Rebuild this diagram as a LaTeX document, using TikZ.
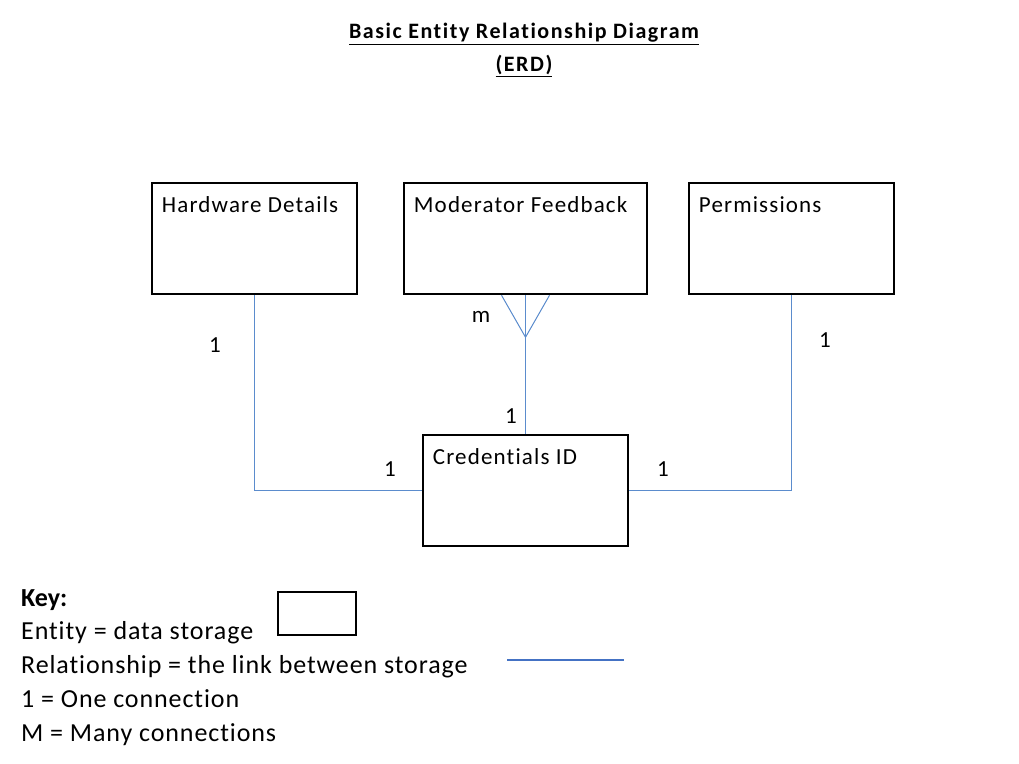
\documentclass[tikz,border=0pt]{standalone}
\usepackage{fontspec}
\setmainfont{Carlito}[Ligatures={NoCommon,NoContextual}]
\usetikzlibrary{positioning, calc}
\definecolor{linkblue}{RGB}{91,140,205}
\definecolor{keyblue}{RGB}{68,114,196}

\begin{document}
\begin{tikzpicture}[x=1pt,y=-1pt,
    entity/.style={draw=black,line width=2.5pt,minimum width=205pt,minimum height=111pt,inner sep=0pt},
    etext/.style={anchor=west,inner sep=0pt,text height=0.65em,text depth=0.2em,font=\fontsize{23}{27}\selectfont\addfontfeature{LetterSpace=5}},
    link/.style={draw=linkblue,line width=1pt},
    card/.style={font=\fontsize{23}{27}\selectfont},
    keytext/.style={anchor=west,inner sep=0pt,text height=0.65em,text depth=0.2em,font=\fontsize{26}{30}\selectfont\addfontfeature{LetterSpace=3.5}}]
    \useasboundingbox[fill=white] (0,0) rectangle (1019,763);

    % Titolo
    \node[font=\bfseries\fontsize{22}{26}\selectfont\addfontfeature{LetterSpace=7}] (title) at (524,34) {\underline{Basic Entity Relationship Diagram}};
    \node[font=\bfseries\fontsize{22}{26}\selectfont\addfontfeature{LetterSpace=7}] (erd) at (524,66) {\underline{(ERD)}};

    % Entita
    \node[entity] (hw) at (254.5,238.5) {};
    \node[entity,minimum width=243pt] (mod) at (525.5,238.5) {};
    \node[entity] (perm) at (791.5,238.5) {};
    \node[entity] (cred) at (525.5,490.5) {};
    \node[etext] (hwlbl) at ($(hw.north west)+(11,28)$) {Hardware Details};
    \node[etext] (modlbl) at ($(mod.north west)+(11,28)$) {Moderator Feedback};
    \node[etext] (permlbl) at ($(perm.north west)+(11,28)$) {Permissions};
    \node[etext] (credlbl) at ($(cred.north west)+(11,28)$) {Credentials ID};

    % Relazioni
    \draw[link] (hw.south) |- (cred.west);
    \draw[link] (perm.south) |- (cred.east);
    \draw[link] (mod.south) -- (cred.north);
    \coordinate (toe) at ($(mod.south)+(0,42)$);
    \draw[link] ($(mod.south)+(-24,0)$) -- (toe) -- ($(mod.south)+(24,0)$);

    % Cardinalita
    \node[card] (c1) at (215,345) {1};
    \node[card] (c2) at (390,469) {1};
    \node[card] (c3) at (663,469) {1};
    \node[card] (c4) at (825,340) {1};
    \node[card] (cm) at (481,317) {m};
    \node[card] (c5) at (511,416) {1};

    % Legenda
    \node[keytext,font=\bfseries\fontsize{26}{30}\selectfont] (key) at (21,604) {Key:};
    \node[keytext] (k1) at (21,637) {Entity = data storage};
    \node[keytext] (k2) at (21,671) {Relationship = the link between storage};
    \node[keytext] (k3) at (21,705) {1 = One connection};
    \node[keytext] (k4) at (21,739) {M = Many connections};
    \node[draw=black,line width=2pt,minimum width=78pt,minimum height=43pt,inner sep=0pt] (keybox) at (317,613.5) {};
    \coordinate (keyl) at (507,660);
    \coordinate (keyr) at (624,660);
    \draw[draw=keyblue,line width=2pt] (keyl) -- (keyr);
\end{tikzpicture}
\end{document}
